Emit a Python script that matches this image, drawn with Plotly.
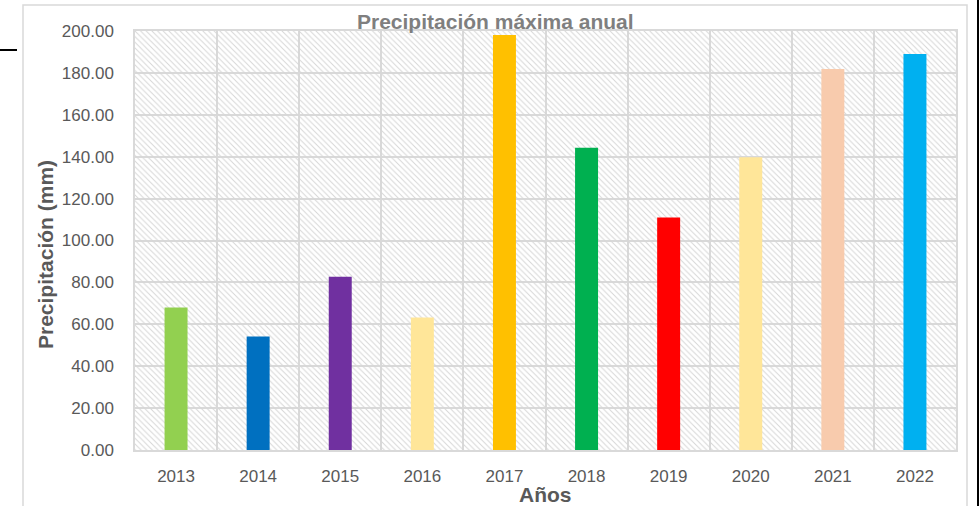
import plotly.graph_objects as go

# Annual maximum precipitation (mm)
years = ["2013", "2014", "2015", "2016", "2017", "2018", "2019", "2020", "2021", "2022"]
precip_mm = [68.0, 54.2, 82.7, 63.3, 198.1, 144.3, 111.0, 139.7, 181.9, 189.0]
bar_colors = ["#92D050", "#0070C0", "#7030A0", "#FFE699", "#FFC000",
              "#00B050", "#FF0000", "#FFE699", "#F8CBAD", "#00B0F0"]
y_ticks = [0, 20, 40, 60, 80, 100, 120, 140, 160, 180, 200]

W, H = 979, 506
M_L, M_R, M_T, M_B = 135, 23, 31, 56
PW, PH = W - M_L - M_R, H - M_T - M_B


def px_x(px):
    """Pixel column -> paper x."""
    return (px - M_L) / PW


def px_y(py):
    """Pixel row -> paper y."""
    return (H - M_B - py) / PH


FONT = "Liberation Sans, Arial, sans-serif"
GRID = "#d9d9d9"
TXT = "#595959"

fig = go.Figure()

# diagonal hatch filling the plot area
fig.add_trace(go.Bar(
    x=[years[0]], y=[y_ticks[-1]], offset=-0.5, width=len(years),
    marker=dict(color="rgba(0,0,0,0)", line=dict(width=0),
                pattern=dict(shape="\\", size=4, solidity=0.25,
                             fgcolor="#d6d6d6", fillmode="replace")),
    hoverinfo="skip", showlegend=False,
))

# precipitation bars
fig.add_trace(go.Bar(
    x=years, y=precip_mm, width=0.28,
    marker=dict(color=bar_colors, line=dict(width=0)),
    showlegend=False,
    hovertemplate="%{x}: %{y:.2f} mm<extra></extra>",
))

fig.update_layout(
    width=W, height=H,
    margin=dict(l=M_L, r=M_R, t=M_T, b=M_B, autoexpand=False),
    paper_bgcolor="white", plot_bgcolor="white",
    barmode="overlay",
    font=dict(family=FONT, color=TXT),
    xaxis=dict(
        type="category", categoryorder="array", categoryarray=years,
        range=[-0.5, len(years) - 0.5],
        tickson="boundaries", ticks="", showgrid=True,
        gridcolor=GRID, gridwidth=1.5,
        showline=True, linecolor=GRID, linewidth=1.5, mirror=True,
        tickfont=dict(size=17, color=TXT, family=FONT),
        ticklabelstandoff=10,
        fixedrange=True,
    ),
    yaxis=dict(
        range=[0, 200], tickvals=y_ticks, tickformat=".2f",
        showgrid=True, gridcolor=GRID, gridwidth=1.5,
        showline=True, linecolor=GRID, linewidth=1.5, mirror=True,
        zeroline=False, ticks="",
        tickfont=dict(size=17, color=TXT, family=FONT),
        ticklabelstandoff=16,
        fixedrange=True,
    ),
    annotations=[
        dict(text="<b>Precipitación máxima anual</b>", xref="paper", yref="paper",
             x=px_x(495), y=px_y(21.5), xanchor="center", yanchor="middle",
             showarrow=False, font=dict(size=21, color="#7f7f7f", family=FONT)),
        dict(text="<b>Precipitación (mm)</b>", xref="paper", yref="paper",
             x=px_x(45), y=px_y(255), xanchor="center", yanchor="middle",
             textangle=-90, showarrow=False,
             font=dict(size=21, color=TXT, family=FONT)),
        dict(text="<b>Años</b>", xref="paper", yref="paper",
             x=0.5, y=px_y(494.5), xanchor="center", yanchor="middle",
             showarrow=False, font=dict(size=21, color=TXT, family=FONT)),
    ],
    shapes=[
        # chart frame
        dict(type="rect", xref="paper", yref="paper",
             x0=px_x(23), x1=px_x(967), y0=px_y(H + 20), y1=px_y(5),
             line=dict(color=GRID, width=1.5), fillcolor="rgba(0,0,0,0)", layer="below"),
        # dark edge at the right
        dict(type="rect", xref="paper", yref="paper",
             x0=px_x(977), x1=px_x(W + 2), y0=px_y(H + 2), y1=px_y(-2),
             line=dict(width=0), fillcolor="black"),
        # short dark stroke at the left
        dict(type="line", xref="paper", yref="paper",
             x0=px_x(0), x1=px_x(17), y0=px_y(50), y1=px_y(50),
             line=dict(color="black", width=2)),
    ],
)

fig.write_html("out.html")
